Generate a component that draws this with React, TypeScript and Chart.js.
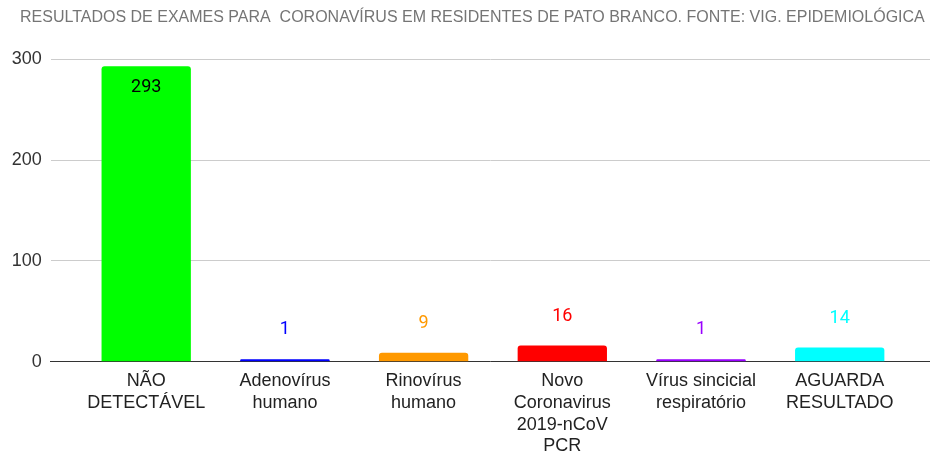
import React, { useEffect, useRef } from "react";
import { Chart, registerables } from "chart.js";

Chart.register(...registerables);

const TITLE = "RESULTADOS DE EXAMES PARA  CORONAVÍRUS EM RESIDENTES DE PATO BRANCO. FONTE: VIG. EPIDEMIOLÓGICA";
const categories: string[][] = [
  ["NÃO", "DETECTÁVEL"],
  ["Adenovírus", "humano"],
  ["Rinovírus", "humano"],
  ["Novo", "Coronavirus", "2019-nCoV", "PCR"],
  ["Vírus sincicial", "respiratório"],
  ["AGUARDA", "RESULTADO"],
];
const values: number[] = [293, 1, 9, 16, 1, 14];
const barColors: string[] = ["#00ff00", "#0000ff", "#ff9900", "#ff0000", "#9900ff", "#00ffff"];
const yTicks: number[] = [0, 100, 200, 300];

const titlePlugin = {
  id: "leftTitle",
  afterDraw(chart: any) {
    const ctx = chart.ctx;
    ctx.save();
    ctx.font = "16px 'Liberation Sans'";
    ctx.fillStyle = "#757575";
    ctx.textAlign = "left";
    ctx.textBaseline = "alphabetic";
    ctx.fillText(TITLE, 20, 22);
    ctx.restore();
  },
};

const valueLabels = {
  id: "valueLabels",
  afterDatasetsDraw(chart: any) {
    const ctx = chart.ctx;
    const meta = chart.getDatasetMeta(0);
    ctx.save();
    ctx.font = "18px Roboto";
    ctx.textAlign = "center";
    ctx.textBaseline = "middle";
    meta.data.forEach((bar: any, i: number) => {
      const h = bar.base - bar.y;
      if (h > 60) {
        ctx.fillStyle = "#000000";
        ctx.fillText(String(values[i]), bar.x, bar.y + 21);
      } else {
        ctx.fillStyle = barColors[i];
        const top = Math.min(bar.y, bar.base - 2);
        ctx.fillText(String(values[i]), bar.x, top - 29.5);
      }
    });
    ctx.restore();
  },
};

export default function App() {
  const ref = useRef<HTMLCanvasElement | null>(null);
  useEffect(() => {
    if (!ref.current) return;
    const chart = new Chart(ref.current, {
      type: "bar",
      data: {
        datasets: [
          {
            data: values.map((v, i) => ({ x: i, y: v })),
            backgroundColor: barColors,
            borderRadius: 3,
            barPercentage: 0.644,
            categoryPercentage: 1,
            minBarLength: 2.5,
          },
        ],
      },
      plugins: [valueLabels, titlePlugin],
      options: {
        responsive: false,
        animation: false,
        layout: { padding: { left: 0, right: 0, top: 59.3, bottom: 0 } },
        plugins: {
          legend: { display: false },
          tooltip: { enabled: false },
          title: { display: false },
        },
        scales: {
          x: {
            type: "linear",
            offset: false,
            min: -0.6886,
            max: 5.651,
            afterBuildTicks: (axis: any) => {
              axis.ticks = categories.map((_, i) => ({ value: i }));
            },
            afterFit: (axis: any) => {
              axis.height = 90.3;
            },
            grid: { display: false, drawTicks: false },
            border: { display: true, color: "#333333", width: 1 },
            ticks: {
              autoSkip: false,
              maxRotation: 0,
              minRotation: 0,
              padding: 9,
              color: "#222222",
              font: { family: "Liberation Sans", size: 18, lineHeight: 1.2 },
              callback: (v: any) => categories[v as number] ?? "",
            },
          },
          y: {
            min: 0,
            max: 300,
            afterBuildTicks: (axis: any) => {
              axis.ticks = yTicks.map((v) => ({ value: v }));
            },
            afterFit: (axis: any) => {
              axis.width = 50.7;
            },
            grid: { color: "#cccccc", drawTicks: false },
            border: { display: false },
            ticks: {
              padding: 9,
              color: "#333333",
              font: { family: "Liberation Sans", size: 18 },
            },
          },
        },
      },
    } as any);
    return () => chart.destroy();
  }, []);
  return (
    <div style={{ position: "absolute", left: 0, top: 0, width: 930, height: 452, background: "#fff" }}>
      <canvas ref={ref} width={930} height={452} />
    </div>
  );
}
